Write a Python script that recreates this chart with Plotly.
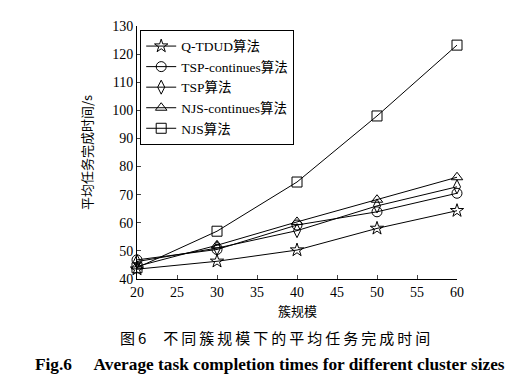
import plotly.graph_objects as go

x_vals = [20, 30, 40, 50, 60]
series_names = ["Q-TDUD算法", "TSP-continues算法", "TSP算法", "NJS-continues算法", "NJS算法"]
q_tdud = [43.5, 46.3, 50.3, 58.0, 64.3]
tsp_cont = [46.8, 50.5, 59.2, 63.9, 70.5]
tsp = [46.2, 51.0, 57.2, 66.0, 72.8]
njs_cont = [44.5, 52.0, 60.3, 68.2, 76.2]
njs = [44.0, 57.0, 74.5, 98.0, 123.2]
symbols = ["star-open", "circle-open", "diamond-tall-open", "triangle-up-open", "square-open"]
x_ticks = [20, 25, 30, 35, 40, 45, 50, 55, 60]
y_ticks = [40, 50, 60, 70, 80, 90, 100, 110, 120, 130]

serif = "'Liberation Serif', 'Noto Sans CJK SC', serif"

fig = go.Figure()
for name, ys, sym in zip(series_names, [q_tdud, tsp_cont, tsp, njs_cont, njs], symbols):
    fig.add_trace(go.Scatter(
        x=x_vals, y=ys, name=name, mode="lines+markers", cliponaxis=False,
        line=dict(color="black", width=1),
        marker=dict(symbol=sym, size=10, color="black", line=dict(color="black", width=1)),
    ))

fig.update_layout(
    width=519, height=380,
    margin=dict(l=129, r=70, t=18, b=109),
    paper_bgcolor="white", plot_bgcolor="white",
    font=dict(family=serif, size=13, color="black"),
    showlegend=True,
    legend=dict(
        x=0.01, y=0.985, xanchor="left", yanchor="top",
        bordercolor="black", borderwidth=1, bgcolor="white",
        font=dict(family=serif, size=13.5, color="black"),
        tracegroupgap=0, itemwidth=30,
    ),
    xaxis=dict(
        range=[20, 60], tickvals=x_ticks, ticks="inside", ticklen=4,
        showline=True, linecolor="black", linewidth=1, showgrid=False, zeroline=False,
        tickfont=dict(family=serif, size=14), ticklabelstandoff=0,
    ),
    yaxis=dict(
        range=[40, 130], tickvals=y_ticks, ticks="inside", ticklen=4,
        showline=True, linecolor="black", linewidth=1, showgrid=False, zeroline=False,
        title=dict(text="平均任务完成时间/s", font=dict(family="Noto Sans CJK SC", size=13), standoff=16),
        tickfont=dict(family=serif, size=14), ticklabelstandoff=0,
    ),
)

fig.add_annotation(
    text="簇规模",
    xref="paper", yref="paper", x=0.5, y=-0.125, xanchor="center", yanchor="middle",
    showarrow=False, font=dict(family="Noto Sans CJK SC", size=13, color="black"),
)
cn_caption = "图\u20096\u00a0\u00a0\u00a0\u00a0\u00a0" + "\u2009".join("不同簇规模下的平均任务完成时间")
fig.add_annotation(
    text=cn_caption,
    xref="paper", yref="paper", x=0.43, y=-0.232, xanchor="center", yanchor="middle",
    showarrow=False, font=dict(family="Noto Sans CJK SC", size=15, color="black"),
)
fig.add_annotation(
    text="<b>Fig.6\u00a0\u00a0\u00a0\u00a0\u00a0Average task completion times for different cluster sizes</b>",
    xref="paper", yref="paper", x=0.415, y=-0.338, xanchor="center", yanchor="middle",
    showarrow=False, font=dict(family="'Liberation Serif', serif", size=17.3, color="black"),
)

fig.write_html("out.html")
